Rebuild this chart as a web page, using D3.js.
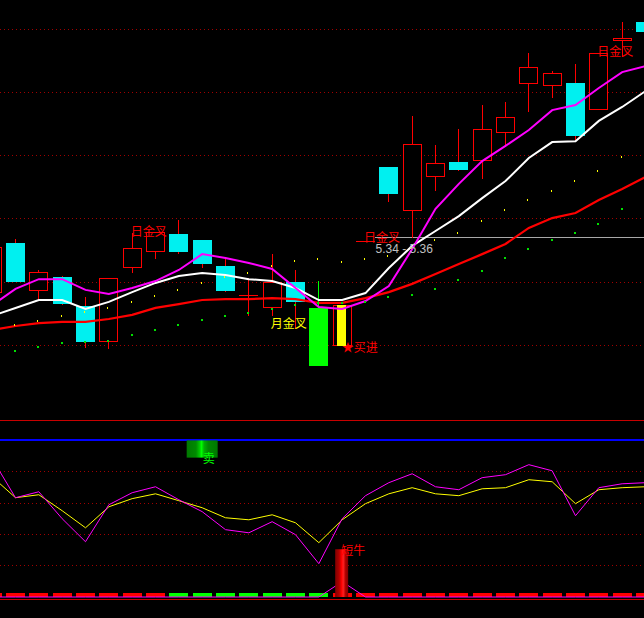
<!DOCTYPE html>
<html><head><meta charset="utf-8">
<script src="https://cdn.jsdelivr.net/npm/d3@7/dist/d3.min.js"></script>
<style>html,body{margin:0;padding:0;background:#000;overflow:hidden}</style>
</head><body><div id="chart"></div>
<script>
// ---------- DATA ----------
const bars = d3.range(-1, 28); // bar index (first bar partly off-screen)
const openP  = [5.166,5.324,5.172,5.217,5.125,5.011,5.245,5.296,5.353,5.334,5.252,5.157,5.119,5.201,5.119,4.999,5.330,5.564,5.425,5.533,5.580,5.583,5.672,5.827,5.820,5.830,5.744,5.962,6.022];
const highP  = [5.330,5.337,5.239,5.220,5.154,5.214,5.356,5.360,5.397,5.334,5.280,5.214,5.289,5.239,5.204,5.128,5.330,5.564,5.725,5.634,5.684,5.760,5.770,5.924,5.868,5.890,5.924,6.022,6.040];
const lowP   = [5.150,5.200,5.144,5.128,4.992,4.989,5.229,5.274,5.289,5.245,5.170,5.094,5.094,5.053,4.936,4.999,5.330,5.454,5.340,5.488,5.552,5.526,5.634,5.738,5.782,5.650,5.744,5.912,5.980];
const closeP = [5.312,5.201,5.233,5.131,5.011,5.214,5.308,5.359,5.296,5.258,5.172,5.157,5.201,5.138,4.936,5.128,5.330,5.479,5.637,5.577,5.555,5.684,5.722,5.880,5.861,5.662,5.924,5.972,5.991];
const maShort = [5.128,5.179,5.210,5.210,5.176,5.163,5.182,5.204,5.239,5.289,5.277,5.261,5.242,5.182,5.122,5.116,5.141,5.188,5.305,5.432,5.511,5.583,5.631,5.681,5.744,5.760,5.814,5.864,5.883];
const maMid   = [5.094,5.119,5.144,5.144,5.116,5.138,5.169,5.198,5.220,5.229,5.223,5.210,5.204,5.182,5.144,5.144,5.166,5.245,5.315,5.362,5.409,5.466,5.520,5.593,5.643,5.646,5.710,5.754,5.804];
const maLong  = [5.049,5.062,5.071,5.075,5.075,5.084,5.097,5.119,5.131,5.144,5.147,5.147,5.150,5.147,5.135,5.135,5.150,5.169,5.195,5.226,5.258,5.289,5.321,5.372,5.403,5.419,5.460,5.495,5.533];
const dotsYellow = [null,5.065,5.078,5.094,5.106,5.119,5.138,5.157,5.176,5.198,5.217,5.229,5.252,5.267,5.274,5.264,5.274,5.283,5.308,5.334,5.356,5.394,5.428,5.460,5.488,5.520,5.552,5.596,null];
const dotsGreen  = [null,4.983,4.996,5.008,5.011,5.015,5.033,5.049,5.065,5.081,5.094,5.103,5.116,5.128,5.135,5.135,5.138,5.154,5.160,5.179,5.207,5.236,5.277,5.305,5.334,5.356,5.384,5.432,null];
const priceGrid = [5.0, 5.2, 5.4, 5.6, 5.8, 6.0];
const levelPrice = 5.34;
const levelText = "5.34 - 5.36";
const labelText  = ["日金叉","月金叉","日金叉","日金叉"];
const labelBar   = [5, 11, 15, 25];
const labelPrice = [5.346, 5.056, 5.328, 5.915];
const labelColor = ["#ff0000","#ffff00","#ff0000","#ff0000"];
const greenStickBar = 13;
const yellowStickBar = 14;
const buyBar = 14, buyText = "★买进", buyPrice = 4.999;
// lower panel
const oscA = [88.3,63.4,67.2,50.0,35.3,58.9,66.6,70.4,62.1,54.5,43.0,41.0,48.1,39.8,21.3,50.0,64.7,73.0,78.7,70.4,68.5,76.2,78.1,84.5,80.6,51.9,69.8,72.3,73.0];
const oscB = [76.8,63.4,65.3,55.1,44.2,57.6,62.8,65.9,61.5,57.0,50.6,49.3,52.5,47.4,34.7,49.3,59.6,65.9,69.8,65.9,64.7,69.1,69.8,74.9,73.6,59.6,68.5,69.8,70.4];
const bullLine = [0,0,0,0,0,0,0,0,0,0,0,0,0,0,0,9.8,0,0,0,0,0,0,0,0,0,0,0,0,0];
const trendUp = [1,1,1,1,1,1,1,1,0,0,0,0,0,0,0,1,1,1,1,1,1,1,1,1,1,1,1,1,1];
const oscGrid = [20, 40, 60, 80];
const oscLevel = 100;
const sellBar = 8, sellText = "卖", sellRange = [89, 100];
const bullBar = 14, bullText = "短牛", bullTop = 30.5;

// ---------- LAYOUT ----------
const W = 644, H = 618;
const svg = d3.select("#chart").append("svg").attr("width", W).attr("height", H)
  .style("display","block").style("background","#000");
svg.append("rect").attr("width", W).attr("height", H).attr("fill", "#000");

const x = d3.scaleLinear().domain([0, 27]).range([15.5, 645.5]);
const y = d3.scaleLinear().domain([4.8, 6.0]).range([408.9, 29.1]);
const yo = d3.scaleLinear().domain([0, 100]).range([597, 440.4]);
const bodyW = 19;
const px = v => Math.floor(v) + 0.5;
const cjk = "'Noto Sans CJK SC','Noto Sans',sans-serif";

const gTop = svg.append("g");
gTop.selectAll("line.pg").data(priceGrid).join("line")
  .attr("x1", 0).attr("x2", W)
  .attr("y1", d => px(y(d))).attr("y2", d => px(y(d)))
  .attr("stroke", "#a00000").attr("stroke-width", 1).attr("stroke-dasharray", "1,3")
  .attr("shape-rendering", "crispEdges");

gTop.append("line").attr("x1", x(15) + bodyW / 2).attr("x2", W)
  .attr("y1", px(y(levelPrice))).attr("y2", px(y(levelPrice)))
  .attr("stroke", "#a8a8a8").attr("stroke-width", 1).attr("shape-rendering", "crispEdges");

const candles = gTop.append("g").attr("shape-rendering", "crispEdges");
bars.forEach((b, k) => {
  const o = openP[k], h = highP[k], l = lowP[k], c = closeP[k];
  const cx = x(b), wx = px(cx);
  const hi = Math.max(o, c), lo = Math.min(o, c);
  let col;
  if (b === greenStickBar) col = "#00ff00";
  else if (c > o) col = "hollow";
  else if (c < o) col = "#00f0f0";
  else col = "doji";
  const wickCol = (b === greenStickBar) ? "#00ff00" : "#ff0000";
  candles.append("line").attr("x1", wx).attr("x2", wx).attr("y1", y(h)).attr("y2", y(hi))
    .attr("stroke", wickCol);
  candles.append("line").attr("x1", wx).attr("x2", wx).attr("y1", y(lo)).attr("y2", y(l))
    .attr("stroke", wickCol);
  if (col === "hollow") {
    candles.append("rect").attr("x", cx - bodyW / 2 + 0.5).attr("y", y(hi) + 0.5)
      .attr("width", bodyW - 1).attr("height", Math.max(0, y(lo) - y(hi) - 1))
      .attr("fill", "#000").attr("stroke", "#ff0000");
  } else if (col === "doji") {
    candles.append("line").attr("x1", cx - bodyW / 2).attr("x2", cx + bodyW / 2)
      .attr("y1", px(y(o))).attr("y2", px(y(o))).attr("stroke", "#ff0000");
  } else {
    candles.append("rect").attr("x", cx - bodyW / 2).attr("y", y(hi))
      .attr("width", bodyW).attr("height", Math.max(1, y(lo) - y(hi))).attr("fill", col);
  }
  if (b === yellowStickBar) {
    candles.append("rect").attr("x", cx - 5).attr("y", y(hi))
      .attr("width", 9).attr("height", y(lo) - y(hi)).attr("fill", "#ffff00");
  }
});

const lineGen = arr => d3.line().x((d, k) => x(bars[k])).y(d => y(d))(arr);
gTop.append("path").attr("d", lineGen(maLong)).attr("fill", "none").attr("stroke", "#ff0000").attr("stroke-width", 2.2);
gTop.append("path").attr("d", lineGen(maMid)).attr("fill", "none").attr("stroke", "#ffffff").attr("stroke-width", 2);
gTop.append("path").attr("d", lineGen(maShort)).attr("fill", "none").attr("stroke", "#ff00ff").attr("stroke-width", 2);

const dots = gTop.append("g").attr("shape-rendering", "crispEdges");
bars.forEach((b, k) => {
  if (dotsYellow[k] != null)
    dots.append("rect").attr("x", Math.floor(x(b)) - 1).attr("y", Math.round(y(dotsYellow[k])) - 1)
      .attr("width", 1).attr("height", 2).attr("fill", "#ffff00");
  if (dotsGreen[k] != null)
    dots.append("rect").attr("x", Math.floor(x(b)) - 1).attr("y", Math.round(y(dotsGreen[k])) - 1)
      .attr("width", 2).attr("height", 2).attr("fill", "#00e000");
});

labelText.forEach((t, k) => {
  gTop.append("text").attr("x", x(labelBar[k]) - 1.5).attr("y", y(labelPrice[k]))
    .attr("fill", labelColor[k]).attr("font-family", cjk).attr("font-size", 12).text(t);
});
gTop.append("text").attr("x", x(15) + 10).attr("y", y(levelPrice) + 15.5)
  .attr("fill", "#c0c0c0").attr("font-family", "'Liberation Sans',Arial,sans-serif")
  .attr("font-size", 12).text(levelText);
gTop.append("text").attr("x", x(buyBar) - 0.5).attr("y", y(buyPrice) + 6)
  .attr("fill", "#ff0000").attr("font-family", cjk).attr("font-size", 12).text(buyText);

// ---------- LOWER PANEL ----------
const gLow = svg.append("g");
gLow.append("line").attr("x1", 0).attr("x2", W).attr("y1", 420.5).attr("y2", 420.5)
  .attr("stroke", "#c80000").attr("shape-rendering", "crispEdges");
gLow.append("line").attr("x1", 0).attr("x2", W).attr("y1", 599.5).attr("y2", 599.5)
  .attr("stroke", "#c80000").attr("shape-rendering", "crispEdges");
gLow.selectAll("line.og").data(oscGrid).join("line")
  .attr("x1", 0).attr("x2", W).attr("y1", d => px(yo(d))).attr("y2", d => px(yo(d)))
  .attr("stroke", "#a00000").attr("stroke-dasharray", "1,3").attr("shape-rendering", "crispEdges");
gLow.append("line").attr("x1", 0).attr("x2", W).attr("y1", yo(oscLevel)).attr("y2", yo(oscLevel))
  .attr("stroke", "#0000ff").attr("stroke-width", 2).attr("shape-rendering", "crispEdges");

const defs = svg.append("defs");
const gG = defs.append("linearGradient").attr("id", "gG");
[["0%","#007800"],["30%","#008a00"],["42%","#00c800"],["48%","#00ff00"],["56%","#00b000"],["70%","#008800"],["100%","#007800"]]
  .forEach(s => gG.append("stop").attr("offset", s[0]).attr("stop-color", s[1]));
const gR = defs.append("linearGradient").attr("id", "gR");
[["0%","#800000"],["30%","#b00000"],["50%","#ff0000"],["62%","#ff2020"],["80%","#b00000"],["100%","#800000"]]
  .forEach(s => gR.append("stop").attr("offset", s[0]).attr("stop-color", s[1]));

gLow.append("rect").attr("x", x(sellBar) - 15.5).attr("y", yo(sellRange[1]))
  .attr("width", 31).attr("height", yo(sellRange[0]) - yo(sellRange[1])).attr("fill", "url(#gG)");
gLow.append("text").attr("x", x(sellBar) + 0.5).attr("y", yo(sellRange[0]) + 5.5)
  .attr("fill", "#00ff00").attr("font-family", cjk).attr("font-size", 12).text(sellText);

gLow.append("g").attr("shape-rendering", "crispEdges").selectAll("rect").data(bars).join("rect")
  .attr("x", d => x(d) - bodyW / 2).attr("y", yo(2.6)).attr("width", bodyW)
  .attr("height", yo(0) - yo(2.6)).attr("fill", (d, k) => trendUp[k] ? "#ff0000" : "#00ff00");

const oLine = arr => d3.line().x((d, k) => x(bars[k])).y(d => yo(d))(arr);
gLow.append("path").attr("d", oLine(bullLine)).attr("fill", "none").attr("stroke", "#ff00ff").attr("stroke-width", 1);
gLow.append("path").attr("d", oLine(oscB)).attr("fill", "none").attr("stroke", "#ffff00").attr("stroke-width", 1);
gLow.append("path").attr("d", oLine(oscA)).attr("fill", "none").attr("stroke", "#ff00ff").attr("stroke-width", 1);

gLow.append("rect").attr("x", x(bullBar) - 7).attr("y", yo(bullTop))
  .attr("width", 13).attr("height", yo(0) - yo(bullTop)).attr("fill", "url(#gR)");
gLow.append("text").attr("x", x(bullBar) - 1).attr("y", yo(bullTop) + 6)
  .attr("fill", "#ff0000").attr("font-family", cjk).attr("font-size", 12).text(bullText);
</script>
</body></html>
